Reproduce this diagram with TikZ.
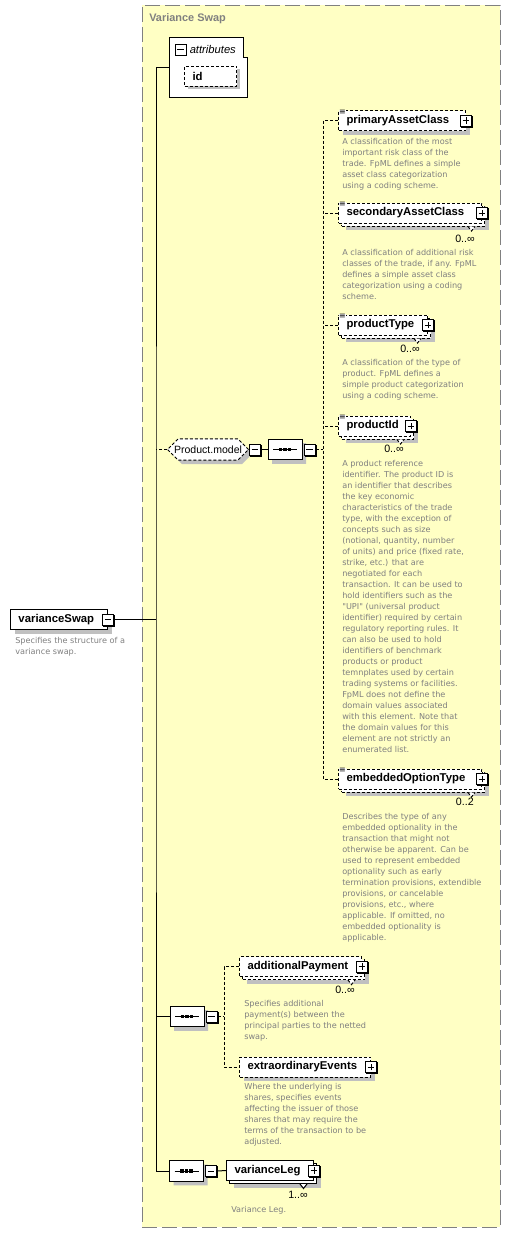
\documentclass[tikz,border=0pt]{standalone}
\usepackage{fontspec}
\setmainfont{Liberation Sans}
\newfontfamily\descfont{DejaVu Sans}
\usetikzlibrary{positioning,calc,shapes.misc}
\definecolor{xsdyellow}{HTML}{FFFFC4}
\definecolor{xsdgrey}{HTML}{808080}
\definecolor{xsdfog}{HTML}{C0C0C0}

\begin{document}
\begin{tikzpicture}[
  x=0.75pt,y=-0.75pt,
  font=\fontsize{8.5pt}{10pt}\selectfont,
  grp/.style={draw=xsdgrey,dash pattern=on 11.25pt off 3.75pt,fill=xsdyellow,line width=0.75pt,inner sep=0pt},
  elem/.style={draw,fill=white,line width=0.75pt,anchor=west,inner xsep=6pt,inner ysep=0pt,minimum height=15pt,
    text width=#1,align=left,font=\fontsize{8.5pt}{10pt}\selectfont\bfseries},
  optbox/.style={dash pattern=on 2.25pt off 1.5pt},
  fog/.style={draw=none,fill=xsdfog},
  pm/.style={draw,fill=white,line width=0.75pt,minimum size=8.25pt,inner sep=0pt},
  minusbox/.style={pm,path picture={
    \draw[line width=0.75pt] ([xshift=-2.6pt]path picture bounding box.center) -- ([xshift=2.6pt]path picture bounding box.center);}},
  plusbox/.style={pm,path picture={
    \draw[line width=0.75pt] ([xshift=-2.6pt]path picture bounding box.center) -- ([xshift=2.6pt]path picture bounding box.center)
      ([yshift=-2.6pt]path picture bounding box.center) -- ([yshift=2.6pt]path picture bounding box.center);}},
  seqshape/.style={chamfered rectangle,chamfered rectangle xsep=5pt,chamfered rectangle ysep=5pt,
    line width=0.75pt,minimum width=25.5pt,minimum height=15.5pt,inner sep=0pt},
  seqbox/.style={seqshape,draw,fill=white,path picture={
    \draw[line width=0.75pt] ([xshift=-9pt]path picture bounding box.center) -- ([xshift=9pt]path picture bounding box.center);
    \foreach \dx in {-3.4pt,0pt,3.4pt}
      \fill[black] ([xshift=\dx]path picture bounding box.center) +(-1.2pt,-1.2pt) rectangle +(1.2pt,1.2pt);}},
  grpref/.style={chamfered rectangle,chamfered rectangle xsep=4pt,chamfered rectangle ysep=4pt,draw,fill=white,optbox,
    line width=0.75pt,minimum width=57pt,minimum height=15pt,inner sep=1pt,font=\fontsize{7.9pt}{9pt}\selectfont},
  desc/.style={anchor=north west,inner sep=0pt,align=left,text=xsdgrey,font=\descfont\fontsize{6.1pt}{8.25pt}\selectfont},
  mult/.style={anchor=east,inner sep=0pt,font=\fontsize{8pt}{9pt}\selectfont},
  docmark/.style={anchor=north west,fill=white,inner sep=0.3pt,font=\descfont\fontsize{6pt}{6pt}\selectfont},
  wire/.style={line width=0.75pt},
  optwire/.style={line width=0.75pt,dash pattern=on 2.25pt off 1.5pt},
]
\useasboundingbox (0,0) rectangle (511,1233);

% complex type group
\node[grp,minimum width=268.5pt,minimum height=916.5pt] (vsg) at (321,616) {};
\node[anchor=west,inner sep=0pt,text=xsdgrey,font=\fontsize{8.2pt}{9pt}\selectfont\bfseries] (vsg-t) at (149,19) {Variance Swap};

% attributes
\node[minimum width=57.75pt,minimum height=44.25pt,inner sep=0pt] (attr) at (208.5,67.5) {};
\draw[wire,fill=white] (attr.north west) -- ($(attr.north east)+(-4,0)$) -- ++(0,20) -- ++(4,0) |- (attr.south west) -- cycle;
\node[minusbox] (attr-x) at (180.5,49.5) {};
\node[anchor=west,inner sep=0pt,font=\fontsize{8.4pt}{10pt}\selectfont\itshape] (attr-t) at (189.5,49.5) {attributes};
\node[elem=27pt,fog] (id-s) at (187,79) {};
\node[elem=27pt,optbox] (id) at (184,76) {id};

% root element
\node[elem=60.75pt,fog] (vs-s) at (14,623.5) {};
\node[elem=60.75pt] (vs) at (10,619.5) {varianceSwap};
\node[desc] (vs-d) at (15,637) {Specifies the structure of a\\variance swap.};
\coordinate (trunk) at (156,619.5);

% Product.model
\node[grpref,fog] (pm-s) at (212,453.5) {\phantom{Product.model}};
\node[grpref] (pm) at (208,449.5) {Product.model};
\node[seqshape,fog] (seq1-s) at (289,453.5) {};
\node[seqbox] (seq1) at (285,449.5) {};
\coordinate (bus1) at (323,449.5);

\node[elem=83.25pt,fog] (pac-s) at (342,124.5) {};
\node[elem=83.25pt,optbox] (pac) at (338,120.5) {primaryAssetClass};
\node[elem=95.25pt,fog] (sac-s) at (345,220) {};
\node[elem=95.25pt,optbox] (sac-c) at (341,216) {};
\node[elem=95.25pt,optbox] (sac) at (338,213) {secondaryAssetClass};
\node[elem=54.75pt,fog] (ptype-s) at (345,332) {};
\node[elem=54.75pt,optbox] (ptype-c) at (341,328) {};
\node[elem=54.75pt,optbox] (ptype) at (338,325) {productType};
\node[elem=42pt,fog] (pid-s) at (345,433) {};
\node[elem=42pt,optbox] (pid-c) at (341,429) {};
\node[elem=42pt,optbox] (pid) at (338,426) {productId};
\node[elem=95.25pt,fog] (eot-s) at (345,786) {};
\node[elem=95.25pt,optbox] (eot-c) at (341,782) {};
\node[elem=95.25pt,optbox] (eot) at (338,779) {embeddedOptionType};

% second sequence
\node[seqshape,fog] (seq2-s) at (191,1020.5) {};
\node[seqbox] (seq2) at (187,1016.5) {};
\coordinate (bus2) at (224,1016.5);
\node[elem=79.5pt,fog] (apay-s) at (246,973.5) {};
\node[elem=79.5pt,optbox] (apay-c) at (242,969.5) {};
\node[elem=79.5pt,optbox] (apay) at (239,966.5) {additionalPayment};
\node[elem=86.25pt,fog] (xevt-s) at (243,1071) {};
\node[elem=86.25pt,optbox] (xevt) at (239,1067) {extraordinaryEvents};

% third sequence
\node[seqshape,fog] (seq3-s) at (190.5,1175) {};
\node[seqbox] (seq3) at (186.5,1171) {};
\node[elem=53.25pt,fog] (vleg-s) at (233,1177.5) {};
\node[elem=53.25pt] (vleg-c) at (229,1173.5) {};
\node[elem=53.25pt] (vleg) at (226,1170.5) {varianceLeg};

% repetition marks
\foreach \n in {sac,ptype,pid,eot,apay}
  \draw[optwire,fill=white] ($(\n.south east)+(-14,3)$) -- ++(3.5,4.5) -- ++(3.5,-4.5);
\draw[wire,fill=white] ($(vleg.south east)+(-14,3)$) -- ++(3.5,4.5) -- ++(3.5,-4.5);

% expand / collapse buttons
\foreach \n in {pac,sac,ptype,pid,eot,apay,xevt,vleg} {
  \filldraw ($(\n.east)+(-4.5,-4.5)$) rectangle ($(\n.east)+(6.5,6.5)$);
  \node[plusbox] (\n-x) at (\n.east) {};
}
\filldraw ($(vs.east)+(-4.5,-4.5)$) rectangle ($(vs.east)+(6.5,6.5)$);
\node[minusbox] (vs-x) at (vs.east) {};
\filldraw ($(pm.east)+(1.5,-4.5)$) rectangle ($(pm.east)+(12.5,6.5)$);
\node[minusbox,anchor=west] (pm-x) at (pm.east) {};
\foreach \n in {seq1,seq2,seq3} {
  \filldraw ($(\n.east)+(2.5,-4.5)$) rectangle ($(\n.east)+(13.5,6.5)$);
  \node[minusbox,anchor=west] (\n-x) at ([xshift=0.75pt]\n.east) {};
}
\foreach \n in {pac,sac,ptype,pid,eot}
  \node[docmark] (\n-i) at ($(\n.north west)+(0.5,-0.5)$) {≡};

% occurrences
\node[mult] (sac-m) at (475,238.5) {0..∞};
\node[mult] (ptype-m) at (420,349) {0..∞};
\node[mult] (pid-m) at (404,449) {0..∞};
\node[mult] (eot-m) at (474,802) {0..2};
\node[mult] (apay-m) at (355,990) {0..∞};
\node[mult] (vleg-m) at (308,1195) {1..∞};

% annotations
\node[desc] (pac-d) at (342,138.5) {A classification of the most\\important risk class of the\\trade. FpML defines a simple\\asset class categorization\\using a coding scheme.};
\node[desc] (sac-d) at (342,249.5) {A classification of additional risk\\classes of the trade, if any. FpML\\defines a simple asset class\\categorization using a coding\\scheme.};
\node[desc] (ptype-d) at (342,359.5) {A classification of the type of\\product. FpML defines a\\simple product categorization\\using a coding scheme.};
\node[desc] (pid-d) at (342,460.5) {A product reference\\identifier. The product ID is\\an identifier that describes\\the key economic\\characteristics of the trade\\type, with the exception of\\concepts such as size\\(notional, quantity, number\\of units) and price (fixed rate,\\strike, etc.) that are\\negotiated for each\\transaction. It can be used to\\hold identifiers such as the\\"UPI" (universal product\\identifier) required by certain\\regulatory reporting rules. It\\can also be used to hold\\identifiers of benchmark\\products or product\\temnplates used by certain\\trading systems or facilities.\\FpML does not define the\\domain values associated\\with this element. Note that\\the domain values for this\\element are not strictly an\\enumerated list.};
\node[desc] (eot-d) at (342,813.5) {Describes the type of any\\embedded optionality in the\\transaction that might not\\otherwise be apparent. Can be\\used to represent embedded\\optionality such as early\\termination provisions, extendible\\provisions, or cancelable\\provisions, etc., where\\applicable. If omitted, no\\embedded optionality is\\applicable.};
\node[desc] (apay-d) at (244,1000.5) {Specifies additional\\payment(s) between the\\principal parties to the netted\\swap.};
\node[desc] (xevt-d) at (244,1083.5) {Where the underlying is\\shares, specifies events\\affecting the issuer of those\\shares that may require the\\terms of the transaction to be\\adjusted.};
\node[desc] (vleg-d) at (231,1206) {Variance Leg.};

% connectors
\draw[wire] (vs-x.east) -- (trunk);
\draw[wire] (attr.west) -| (trunk) |- (seq3.west);
\draw[optwire] (pm.west) -- (pm.west -| trunk);
\draw[wire] (seq2.west) -- (seq2.west -| trunk);
\draw[wire] (pm-x.east) -- (seq1.west);
\draw[optwire] (seq1-x.east) -- (bus1);
\draw[optwire] (pac.west) -| (bus1) |- (eot.west);
\foreach \n in {sac,ptype,pid}
  \draw[optwire] (\n.west) -- (\n.west -| bus1);
\draw[optwire] (seq2-x.east) -- (bus2);
\draw[optwire] (apay.west) -| (bus2) |- (xevt.west);
\draw[wire] (seq3-x.east) -- (vleg.west);
\end{tikzpicture}
\end{document}
